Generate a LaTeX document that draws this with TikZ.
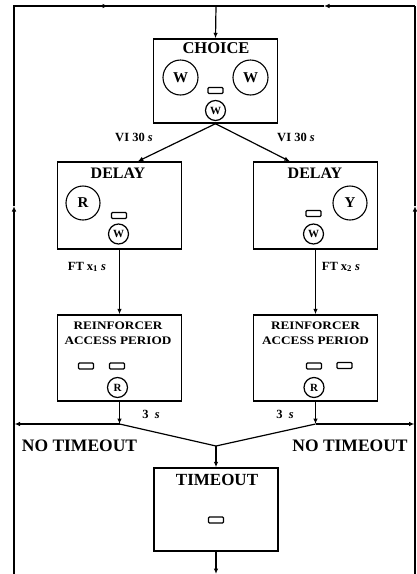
\documentclass[tikz,border=0pt]{standalone}
\usepackage{fontspec}
\setmainfont{Liberation Serif}
\newfontfamily\widefont[FakeStretch=1.15]{Liberation Serif}
\usetikzlibrary{arrows.meta}
\newcommand{\fs}[1]{\fontsize{#1}{#1}\selectfont\bfseries}
\begin{document}
\begin{tikzpicture}[x=1pt,y=-1pt,line width=1.2pt,
  tip/.style={-{Latex[length=5.5pt,width=4.5pt]}},
  box/.style={draw,line width=1.4pt,inner sep=0pt,minimum width=124pt},
  lamp/.style={draw,line width=1.1pt,rounded corners=1pt,minimum width=15pt,minimum height=6pt,inner sep=0pt},
  big/.style={draw,circle,line width=1.1pt,minimum size=34pt,inner sep=0pt,font=\fs{15}},
  small/.style={draw,circle,line width=1.2pt,minimum size=20pt,inner sep=0pt,font=\fs{11}},
  title/.style={inner sep=0pt,font=\fs{16}},
  lab/.style={inner sep=0pt,font=\fs{12.5}}]
\useasboundingbox (0,0) rectangle (417,574);
% frame coordinates
\coordinate (tl) at (14,6);
\coordinate (tr) at (415,6);
\coordinate (bl) at (14,574);
\coordinate (br) at (415,574);
\coordinate (tm) at (216,6);
\coordinate (tmL) at (108,6);
\coordinate (tmR) at (324,6);
\coordinate (lm) at (14,206);
\coordinate (rm) at (415,206);
% boxes
\node[box,minimum height=84pt] (choice) at (215.5,81) {};
\node[box,minimum height=87pt] (dL) at (119.5,205.5) {};
\node[box,minimum height=87pt] (dR) at (315.5,205.5) {};
\node[box,minimum height=86pt] (rL) at (119.5,358) {};
\node[box,minimum height=86pt] (rR) at (315.5,358) {};
\node[box,minimum height=83pt] (tout) at (216,509.5) {};
% box titles
\node[title,font=\fs{16.5}] (tc) at (216,48.5) {CHOICE};
\node[title] (tdL) at (118,173) {DELAY};
\node[title] (tdR) at (315,173) {DELAY};
\node[inner sep=0pt,align=center,font=\widefont\bfseries\fontsize{11.5}{14.5}\selectfont] (trL) at (118,333) {REINFORCER\\ACCESS PERIOD};
\node[inner sep=0pt,align=center,font=\widefont\bfseries\fontsize{11.5}{14.5}\selectfont] (trR) at (315.5,333) {REINFORCER\\ACCESS PERIOD};
\node[title,font=\fs{17}] (tt) at (217,480) {TIMEOUT};
% choice contents
\node[big,minimum size=35pt] (cw1) at (180.5,77.5) {W};
\node[big,minimum size=35pt] (cw2) at (250.5,77.5) {W};
\node[lamp] (cl) at (215.5,90.5) {};
\node[small] (cw3) at (215.5,110.5) {W};
% delay contents
\node[big] (rb) at (83,203) {R};
\node[lamp] (dlL) at (119,215.5) {};
\node[small] (dwL) at (118.5,234) {W};
\node[big] (yb) at (350,203) {Y};
\node[lamp] (dlR) at (313.5,213.5) {};
\node[small] (dwR) at (313.5,234) {W};
% reinforcer contents
\node[lamp] (rl1) at (86,366) {};
\node[lamp] (rl2) at (117,366) {};
\node[small] (rrL) at (117.5,387.5) {R};
\node[lamp] (rl3) at (314,366) {};
\node[lamp] (rl4) at (344.5,365.5) {};
\node[small] (rrR) at (314,387.5) {R};
% timeout contents
\node[lamp] (tl1) at (216,520) {};
% frame
\draw[tip] (bl) -- (lm);
\draw (lm) -- (tl) -- (tmL);
\draw[tip] (tl) -- (tmL);
\draw (tmL) -- (tm);
\draw[tip] (br) -- (rm);
\draw (rm) -- (tr);
\draw[tip] (tr) -- (tmR);
\draw (tmR) -- (tm);
\draw[tip] (tm) -- (choice.north);
% choice to delays
\draw[tip] (choice.south) -- ([xshift=81pt]dL.north west);
\draw[tip] (choice.south) -- ([xshift=37pt]dR.north west);
\node[lab] (vi1) at (134,137) {VI 30 \textit{s}};
\node[lab] (vi2) at (296,137) {VI 30 \textit{s}};
% delays to reinforcers
\draw[tip] (dL.south) -- (rL.north);
\draw[tip] (dR.south) -- (rR.north);
\node[lab] (ft1) at (87,267) {FT x\textsubscript{1} \textit{s}};
\node[lab] (ft2) at (341,267) {FT x\textsubscript{2} \textit{s}};
% reinforcers to junctions
\coordinate (jL) at (119.5,424);
\coordinate (jR) at (315.5,424);
\coordinate (vb) at (216,446);
\coordinate (le) at (14.5,424);
\coordinate (re) at (414.5,424);
\coordinate (be) at (216,574);
\draw[tip] (rL.south) -- (jL);
\draw[tip] (rR.south) -- (jR);
\node[lab] (s1) at (151,414) {3~~\textit{s}};
\node[lab] (s2) at (285,414) {3~~\textit{s}};
\draw[tip] (jL) -- (le);
\draw[tip] (jR) -- (re);
\draw (jL) -- (vb) -- (jR);
\draw[tip] (vb) -- (tout.north);
\draw[tip] (tout.south) -- (be);
\node[title,font=\fs{17.5}] (nt1) at (79.5,446) {NO TIMEOUT};
\node[title,font=\fs{17.5}] (nt2) at (350,446) {NO TIMEOUT};
\end{tikzpicture}
\end{document}
